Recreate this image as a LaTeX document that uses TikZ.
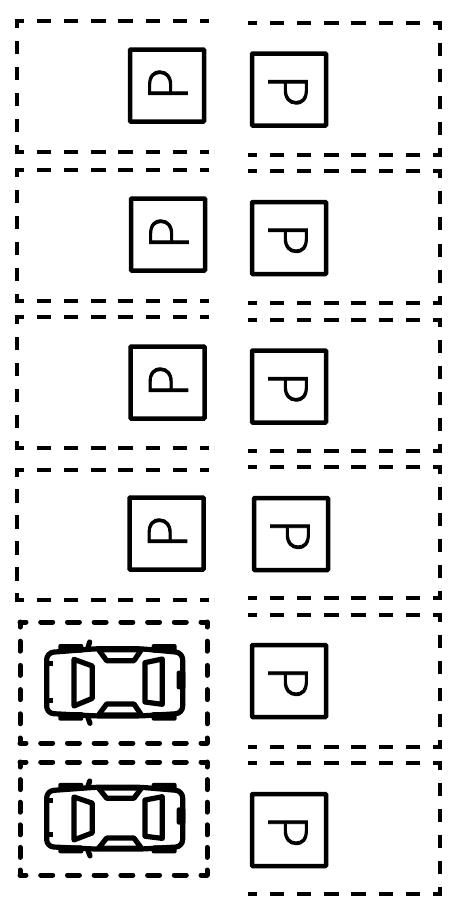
\documentclass[tikz,border=0pt]{standalone}
\usepackage{fontspec}
\newfontfamily\pfont{Lato Light}[FakeBold=1.6]
\usetikzlibrary{calc}
\tikzset{
  x=1pt,y=-1pt,
  signbox/.style={draw=black,line width=4.5pt,minimum width=74pt,minimum height=72pt,inner sep=0pt,rounded corners=0.8pt},
  ptext/.style={inner sep=0pt,font=\pfont\fontsize{55pt}{55pt}\selectfont,text=black},
  carline/.style={line width=5.2pt,line join=round,line cap=round},
  carpic/.pic={
    \begin{scope}[x=0.3333pt,y=-0.3333pt]
      % body
      \draw[carline,rounded corners=7pt] (50,150) -- (50,68) -- (200,56) -- (330,56) -- (458,68) -- (458,250) -- (330,258) -- (200,258) -- (50,250) -- cycle;
      % wheels
      \fill[black,rounded corners=2pt] (85,42) rectangle (160,68);
      \fill[black,rounded corners=2pt] (365,42) rectangle (440,68);
      \fill[black,rounded corners=2pt] (85,246) rectangle (160,272);
      \fill[black,rounded corners=2pt] (365,246) rectangle (440,272);
      % mirrors
      \draw[carline] (179,36) -- (173,56);
      \draw[carline] (173,260) -- (180,280);
      % bumpers and lamps
      \fill[black,rounded corners=2pt] (440,122) rectangle (466,178);
      \fill[black] (50,92) rectangle (68,108);
      \fill[black] (50,203) rectangle (68,219);
      % roof outline
      \draw[carline] (205,58) -- (230,92) -- (312,92) -- (335,58);
      \draw[carline] (205,256) -- (230,222) -- (312,222) -- (335,256);
      % roof side windows
      \fill[black] (205,54) -- (335,54) -- (322,67) -- (212,67) -- cycle;
      \fill[black] (205,260) -- (335,260) -- (322,247) -- (212,247) -- cycle;
      % front and rear glass
      \draw[carline] (132,88) -- (187,108) -- (187,205) -- (132,228) -- cycle;
      \draw[carline] (397,87) -- (345,98) -- (345,216) -- (397,223) -- cycle;
    \end{scope}
  }
}
% start, end, length, periods, dash, width, cap
\newcommand\dashedge[7]{%
  \pgfmathsetmacro\pgap{#3/#4-#5}%
  \pgfmathsetmacro\phs{#5/2}%
  \draw[line width=#6pt,line cap=#7,dash pattern=on #5pt off \pgap pt,dash phase=\phs pt] #1 -- #2;}
% open to the right
\newcommand\bayleft[2]{%
  \pgfmathsetmacro\hh{#2-#1}%
  \dashedge{(17,#1)}{(207,#1)}{190}{7}{10}{4.2}{rect}%
  \dashedge{(17,#2)}{(207,#2)}{190}{7}{10}{4.2}{rect}%
  \dashedge{(17,#1)}{(17,#2)}{\hh}{5}{9}{4.2}{rect}}
% open to the left
\newcommand\bayright[2]{%
  \pgfmathsetmacro\hh{#2-#1}%
  \dashedge{(250,#1)}{(440,#1)}{190}{7}{10}{4.2}{rect}%
  \dashedge{(250,#2)}{(440,#2)}{190}{7}{10}{4.2}{rect}%
  \dashedge{(440,#1)}{(440,#2)}{\hh}{5}{9}{4.2}{rect}}
% closed
\newcommand\baycar[2]{%
  \pgfmathsetmacro\hh{#2-#1}%
  \dashedge{(20,#1)}{(207,#1)}{187}{7}{12}{5}{round}%
  \dashedge{(20,#2)}{(207,#2)}{187}{7}{12}{5}{round}%
  \dashedge{(20,#1)}{(20,#2)}{\hh}{5}{10}{5}{round}%
  \dashedge{(207,#1)}{(207,#2)}{\hh}{5}{10}{5}{round}}
\begin{document}
\begin{tikzpicture}
\useasboundingbox (0,0) rectangle (460,906);
\fill[white] (0,0) rectangle (460,906);
\bayleft{21}{152}
\bayleft{170}{301}
\bayleft{317}{448}
\bayleft{470}{600}
\baycar{622}{743}
\baycar{762}{875}
\bayright{23}{155}
\bayright{171}{303}
\bayright{320}{451}
\bayright{467}{598}
\bayright{615}{747}
\bayright{763}{894}
\foreach \n/\x/\y in {a/167/85.5,b/168/234.5,c/167.5/382.5,d/166.5/533.5}{
  \node[signbox] (box\n) at (\x,\y) {};
  \node[ptext,rotate=90] (p\n) at ($(box\n.center)+(1,-1)$) {P};
}
\foreach \n/\x/\y in {e/289/89.5,f/289/238,g/289/386.5,h/291/534,i/289/681,j/289/830}{
  \node[signbox] (box\n) at (\x,\y) {};
  \node[ptext,rotate=-90] (p\n) at ($(box\n.center)+(-1,1)$) {P};
}
\pic at (30,630) {carpic};
\pic[yscale=0.92] at (30,770) {carpic};
\end{tikzpicture}
\end{document}
